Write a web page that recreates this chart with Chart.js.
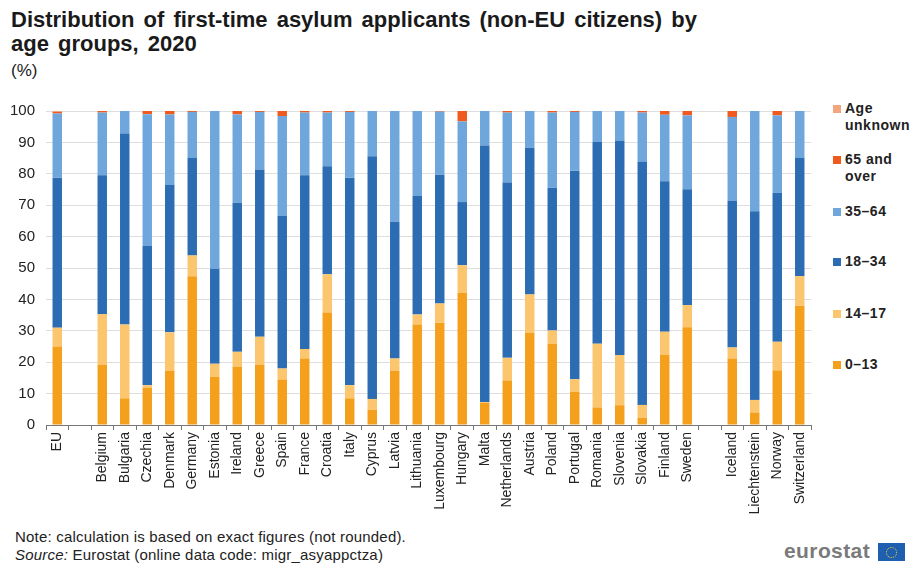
<!DOCTYPE html>
<html lang="en">
<head>
    <meta charset="UTF-8">
    <title>Asylum applicants by age group</title>
    <script src="https://cdn.jsdelivr.net/npm/chart.js@4.4.0/dist/chart.umd.min.js"></script>
    <style>
        body { margin: 0; width: 912px; height: 563px; background: #fff; font-family: "Liberation Sans", Arial, sans-serif; position: relative; overflow: hidden; }
        #title { position: absolute; left: 11px; top: 8px; font-size: 22px; font-weight: bold; line-height: 24px; word-spacing: 3px; color: #1a1a1a; }
        #unit { position: absolute; left: 11px; top: 61px; font-size: 17px; color: #1a1a1a; }
        #chartBox { position: absolute; left: 0; top: 91px; width: 820px; height: 429px; }
        #legend { position: absolute; left: 833px; top: 0; }
        .item { position: absolute; left: 0; width: 90px; font-size: 14px; font-weight: bold; line-height: 17px; color: #222; padding-left: 12px; letter-spacing: 0.5px; }
        .item span { position: absolute; left: 0; top: 5px; width: 8px; height: 8px; }
        #note { position: absolute; left: 15px; top: 528px; font-size: 15px; line-height: 18px; color: #222; letter-spacing: 0.2px; }
        #logo { position: absolute; left: 784px; top: 539px; font-size: 21px; font-weight: bold; color: #7a7a7a; letter-spacing: 0.4px; }
        #flag { position: absolute; left: 878px; top: 543px; width: 27px; height: 18px; background: #1f5fb0; }
        #flag div { position: absolute; left: 8px; top: 4px; width: 9px; height: 9px; border: 1px dotted #f3d23a; border-radius: 50%; }
    </style>
</head>
<body>
<div id="title">Distribution of first-time asylum applicants (non-EU citizens) by<br>age groups, 2020</div>
<div id="unit">(%)</div>
<div id="chartBox"><canvas id="chart"></canvas></div>
<div id="legend"></div>
<div id="note">Note: calculation is based on exact figures (not rounded).<br><i>Source:</i> Eurostat (online data code: migr_asyappctza)</div>
<div id="logo">eurostat</div>
<div id="flag"><div></div></div>
<script>
    var countries = ['EU', '', 'Belgium', 'Bulgaria', 'Czechia', 'Denmark', 'Germany', 'Estonia', 'Ireland', 'Greece', 'Spain',
        'France', 'Croatia', 'Italy', 'Cyprus', 'Latvia', 'Lithuania', 'Luxembourg', 'Hungary', 'Malta', 'Netherlands',
        'Austria', 'Poland', 'Portugal', 'Romania', 'Slovenia', 'Slovakia', 'Finland', 'Sweden', '',
        'Iceland', 'Liechtenstein', 'Norway', 'Switzerland'];

    var age0_13 = [25, null, 19.1, 8.5, 11.9, 17.2, 47.4, 15.3, 18.6, 19.1, 14.5, 21.2, 35.8, 8.5, 4.8, 17.3, 32, 32.6,
        42.1, 7, 14.2, 29.3, 25.9, 10.6, 5.6, 6.3, 2.3, 22.3, 31.1, null, 21.2, 4, 17.4, 38];
    var age14_17 = [6, null, 16.2, 23.5, 0.8, 12.3, 6.6, 4.2, 4.7, 9, 3.5, 3, 12.2, 4.2, 3.5, 3.9, 3.2, 6.1,
        8.8, 0.3, 7.2, 12.3, 4.2, 4, 20.3, 16, 4.1, 7.4, 7.1, null, 3.5, 4, 9.1, 9.4];
    var age18_34 = [47.7, null, 44.2, 60.8, 44.3, 46.9, 31, 30.3, 47.5, 53.3, 48.6, 55.3, 34.4, 66, 77.3, 43.5, 37.7, 41,
        20.1, 81.7, 55.8, 46.7, 45.4, 66.4, 64.2, 68.2, 77.4, 47.9, 36.9, null, 46.7, 60.1, 47.4, 37.6];
    var age35_64 = [20.5, null, 20, 7.2, 42, 22.5, 14.7, 50.2, 28.1, 18.3, 31.8, 20, 17.1, 21, 14.4, 35.3, 27.1, 20.1,
        25.7, 11, 22.3, 11.7, 24, 18.7, 9.9, 9.5, 15.7, 21.2, 23.5, null, 26.7, 31.9, 24.7, 15];
    var age65 = [0.5, null, 0.5, 0, 1, 1.1, 0.3, 0, 1.1, 0.3, 1.6, 0.5, 0.5, 0.3, 0, 0, 0, 0.2,
        3.3, 0, 0.5, 0, 0.5, 0.3, 0, 0, 0.5, 1.2, 1.4, null, 1.9, 0, 1.4, 0];
    var ageUnknown = [0.3, null, 0, 0, 0, 0, 0, 0, 0, 0, 0, 0, 0, 0, 0, 0, 0, 0,
        0, 0, 0, 0, 0, 0, 0, 0, 0, 0, 0, null, 0, 0, 0, 0];

    var groups = ['0\u201313', '14\u201317', '18\u201334', '35\u201364', '65 and over', 'Age unknown'];
    var colors = ['#f5a01c', '#fbc66e', '#2c6cb3', '#6fa7dd', '#ef5a1e', '#f2a680'];
    var series = [age0_13, age14_17, age18_34, age35_64, age65, ageUnknown];

    // legend, top to bottom in reverse stack order
    var legendTops = [100, 151, 203, 253, 305, 356];
    var legendText = ['Age<br>unknown', '65 and<br>over', '35\u201364', '18\u201334', '14\u201317', '0\u201313'];
    var legend = document.getElementById('legend');
    for (var i = 0; i < 6; i++) {
        var el = document.createElement('div');
        el.className = 'item';
        el.style.top = legendTops[i] + 'px';
        el.innerHTML = '<span style="background:' + colors[5 - i] + '"></span>' + legendText[i];
        legend.appendChild(el);
    }

    new Chart(document.getElementById('chart'), {
        type: 'bar',
        data: {
            labels: countries,
            datasets: series.map(function (d, i) {
                return {
                    label: groups[i],
                    data: d,
                    backgroundColor: colors[i],
                    barPercentage: 0.42,
                    categoryPercentage: 1
                };
            })
        },
        options: {
            responsive: true,
            maintainAspectRatio: false,
            animation: false,
            layout: { padding: { top: 7, right: 9, left: 0, bottom: 0 } },
            plugins: { legend: { display: false }, tooltip: { enabled: false } },
            scales: {
                x: {
                    stacked: true,
                    afterFit: function (s) { s.height = 95; },
                    grid: { drawOnChartArea: false, offset: true, tickLength: 5, color: '#777' },
                    border: { color: '#777' },
                    ticks: {
                        autoSkip: false, maxRotation: 90, minRotation: 90, padding: 2,
                        color: '#222', font: { family: '"Liberation Sans", Arial, sans-serif', size: 14 }
                    }
                },
                y: {
                    stacked: true,
                    min: 0,
                    max: 100,
                    afterFit: function (s) { s.width = 46; },
                    grid: { color: '#dedede', drawTicks: false },
                    border: { display: false },
                    ticks: {
                        stepSize: 10, padding: 11,
                        color: '#222', font: { family: '"Liberation Sans", Arial, sans-serif', size: 15 }
                    }
                }
            }
        }
    });
</script>
</body>
</html>
